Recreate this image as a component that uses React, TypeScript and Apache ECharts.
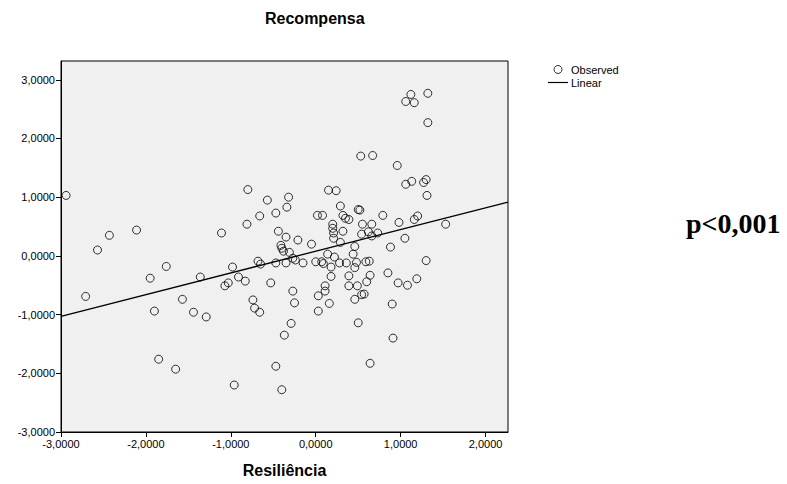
import React, { useEffect, useRef } from "react";
import * as echarts from "echarts";

const xTicks = [-3, -2, -1, 0, 1, 2];
const yTicks = [-3, -2, -1, 0, 1, 2, 3];

const resiliencia = [
  -2.94, -2.43, -2.11, -2.57, -2.71, -1.95, -1.76, -1.36, -1.57, -1.90,
  -1.44, -1.29, -1.85, -1.65, -1.07, -1.03, -0.98, -0.91, -0.83, -0.68,
  -0.65, -0.74, -0.72, -0.66, -0.96, -0.53, -0.80, -0.81, -0.66, -0.57,
  -1.11, -0.47, -0.32, -0.34, -0.44, -0.35, -0.21, -0.05, -0.41, -0.40,
  -0.38, -0.31, -0.27, -0.24, -0.15, -0.47, -0.35, -0.27, -0.25, -0.29,
  -0.37, -0.47, -0.40,
  0.15, 0.24, 0.02, 0.08, 0.29, 0.32, 0.35, 0.39, 0.20, 0.20,
  0.21, 0.21, 0.32, 0.29, 0.46, 0.50, 0.52, 0.53, 0.67, 0.96,
  1.12, 1.06, 1.16, 1.32, 1.32, 1.06, 1.13, 1.27, 1.30, 1.31,
  1.16, 1.20, 1.53, 1.05, 0.98, 0.79, 0.66, 0.55, 0.54, 0.62,
  0.66, 0.73, 0.88, 0.14, 0.22, 0.00, 0.07, 0.09, 0.18, 0.18,
  0.28, 0.36, 0.44, 0.48, 0.46, 0.39, 0.39, 0.49, 0.46, 0.50,
  0.11, 0.11, 0.03, 0.16, 0.03, 0.54, 0.57, 0.59, 0.63, 0.64,
  0.60, 0.85, 0.97, 1.08, 1.19, 1.30, 0.90, 0.91, 0.64,
];

const recompensa = [
  1.03, 0.35, 0.44, 0.10, -0.69, -0.38, -0.18, -0.36, -0.74, -0.94,
  -0.96, -1.04, -1.76, -1.93, -0.51, -0.46, -0.19, -0.36, -0.43, -0.09,
  -0.14, -0.75, -0.89, -0.96, -2.20, -0.46, 1.13, 0.54, 0.68, 0.95,
  0.39, 0.73, 1.00, 0.83, 0.42, 0.32, 0.27, 0.20, 0.18, 0.13,
  0.08, 0.06, -0.04, -0.07, -0.12, -0.12, -0.12, -0.60, -0.80, -1.15,
  -1.35, -1.88, -2.28,
  1.12, 1.11, 0.69, 0.69, 0.85, 0.69, 0.64, 0.62, 0.54, 0.47,
  0.39, 0.30, 0.42, 0.23, 0.16, 0.79, 0.78, 1.70, 1.71, 1.54,
  2.75, 2.63, 2.61, 2.77, 2.27, 1.22, 1.27, 1.25, 1.30, 1.03,
  0.62, 0.68, 0.54, 0.30, 0.57, 0.69, 0.54, 0.54, 0.37, 0.41,
  0.34, 0.39, 0.15, 0.03, -0.02, -0.10, -0.10, -0.13, -0.19, -0.35,
  -0.12, -0.12, 0.03, -0.11, -0.20, -0.34, -0.51, -0.51, -0.74, -1.14,
  -0.51, -0.60, -0.68, -0.81, -0.94, -0.66, -0.65, -0.10, -0.09, -0.33,
  -0.44, -0.29, -0.46, -0.50, -0.39, -0.08, -0.82, -1.40, -1.83,
];

const fitIntercept = 0.08;
const fitSlope = 0.37;
const xMin = -3;
const xMax = 2.264;
const yMin = -3;
const yMax = 3.32;

const fmt = (v: number) => v.toFixed(4).replace(".", ",");

export default function App() {
  const ref = useRef<HTMLDivElement>(null);

  useEffect(() => {
    if (!ref.current) return;
    const chart = echarts.init(ref.current, undefined, { renderer: "svg" });
    const font = 'Arial, "Liberation Sans", sans-serif';
    const points = resiliencia.map((x, i) => [x, recompensa[i]]);
    const fitLine = [xMin, xMax].map((x) => [x, fitIntercept + fitSlope * x]);

    chart.setOption({
      animation: false,
      backgroundColor: "#ffffff",
      textStyle: { fontFamily: font },
      title: {
        text: "Recompensa",
        left: 265,
        top: 10,
        padding: 0,
        textStyle: { fontFamily: font, fontSize: 16, fontWeight: "bold", color: "#000" },
      },
      legend: {
        orient: "vertical",
        left: 548,
        top: 64,
        itemWidth: 20,
        itemHeight: 8,
        itemGap: 2,
        padding: 0,
        textStyle: { fontFamily: font, fontSize: 11, color: "#000", padding: [0, 0, 0, -2] },
        data: [
          {
            name: "Observed",
            icon: "circle",
            itemStyle: { color: "rgba(0,0,0,0)", borderColor: "#000", borderWidth: 1 },
          },
          {
            name: "Linear",
            icon: "path://M0,0h20v1.2h-20z",
            itemStyle: { color: "#000", borderWidth: 0 },
          },
        ],
      },
      grid: {
        left: 61,
        top: 61,
        right: 279,
        bottom: 52,
        show: true,
        backgroundColor: "#f0f0f0",
        borderColor: "#000",
        borderWidth: 1,
        containLabel: false,
      },
      xAxis: {
        type: "value",
        min: xMin,
        max: xMax,
        name: "Resiliência",
        nameLocation: "middle",
        nameGap: 30,
        nameTextStyle: { fontFamily: font, fontSize: 16, fontWeight: "bold", color: "#000" },
        axisLine: { show: true, onZero: false, lineStyle: { color: "#000", width: 1 } },
        axisTick: { show: true, length: 5, lineStyle: { color: "#000" }, customValues: xTicks },
        axisLabel: {
          customValues: xTicks,
          formatter: fmt,
          fontFamily: font,
          fontSize: 11,
          color: "#000",
          margin: 6,
        },
        splitLine: { show: false },
      },
      yAxis: {
        type: "value",
        min: yMin,
        max: yMax,
        axisLine: { show: true, onZero: false, lineStyle: { color: "#000", width: 1 } },
        axisTick: { show: true, length: 5, lineStyle: { color: "#000" }, customValues: yTicks },
        axisLabel: {
          customValues: yTicks,
          formatter: fmt,
          fontFamily: font,
          fontSize: 11,
          color: "#000",
          margin: 6,
        },
        splitLine: { show: false },
      },
      series: [
        {
          name: "Observed",
          type: "scatter",
          data: points,
          symbol: "circle",
          symbolSize: 8,
          itemStyle: { color: "rgba(0,0,0,0)", borderColor: "#000", borderWidth: 1 },
          emphasis: { disabled: true },
          z: 3,
        },
        {
          name: "Linear",
          type: "line",
          data: fitLine,
          symbol: "none",
          color: "#000",
          itemStyle: { color: "#000" },
          lineStyle: { color: "#000", width: 1.3 },
          emphasis: { disabled: true },
          z: 2,
        },
      ],
      graphic: [
        {
          type: "text",
          left: 686,
          top: 209,
          style: {
            text: "p<0,001",
            fontFamily: '"Times New Roman", "Liberation Serif", serif',
            fontSize: 28,
            fontWeight: "bold",
            fill: "#000",
          },
        },
      ],
    });

    return () => chart.dispose();
  }, []);

  return (
    <div
      ref={ref}
      style={{ position: "absolute", left: 0, top: 0, width: 787, height: 484 }}
    />
  );
}
